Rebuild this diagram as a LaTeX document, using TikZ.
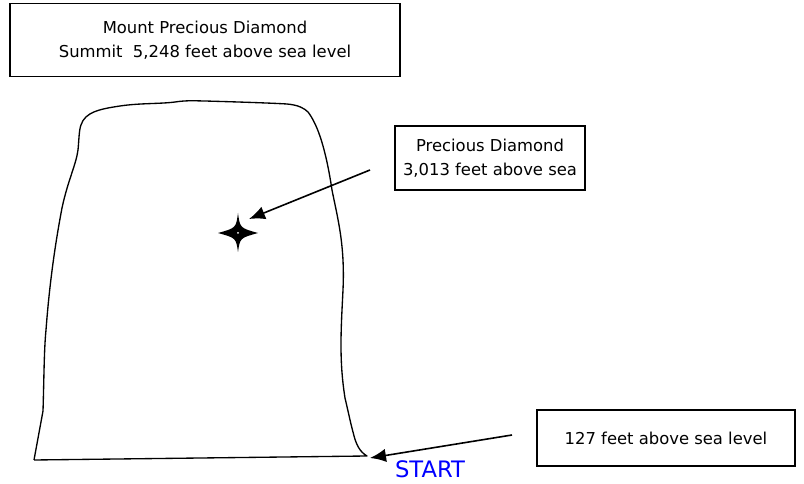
\documentclass[tikz,border=0pt]{standalone}
\usepackage{fontspec}
\setmainfont{DejaVu Sans}
\usetikzlibrary{arrows.meta}
\begin{document}
\begin{tikzpicture}[x=0.75pt,y=-0.75pt,
  lbl/.style={draw=black,line width=1.1pt,align=center,inner sep=0pt,font=\fontsize{12.3}{18.3}\selectfont},
  outline/.style={line width=1pt,line join=round},
  pointer/.style={line width=1.2pt,-{Latex[length=12pt,width=10pt]}}]
\useasboundingbox (0,0) rectangle (804,484);
\node[lbl,minimum width=390*0.75pt,minimum height=73*0.75pt] (summit) at (205,40) {Mount Precious Diamond\\Summit\ \ 5,248 feet above sea level};
\node[lbl,minimum width=190*0.75pt,minimum height=64*0.75pt] (diamond) at (490,158) {Precious Diamond\\3,013 feet above sea};
\node[lbl,minimum width=258*0.75pt,minimum height=56*0.75pt] (base) at (666,438) {127 feet above sea level};
% mountain
\draw[outline] (34,460) -- (43,411)
  .. controls (44,380) and (44,350) .. (46,330)
  .. controls (49,290) and (54,250) .. (62,208)
  .. controls (68,180) and (76,165) .. (78,150)
  .. controls (79,140) and (79,130) .. (81,125)
  .. controls (85,112) and (100,109) .. (120,106)
  .. controls (140,103) and (160,104) .. (175,102)
  .. controls (188,100) and (198,101) .. (205,101)
  .. controls (240,102) and (270,103) .. (287,104)
  .. controls (298,105) and (304,108) .. (308,112)
  .. controls (318,125) and (326,150) .. (332,190)
  .. controls (338,220) and (345,245) .. (343,290)
  .. controls (341,330) and (339,360) .. (345,398)
  .. controls (349,415) and (351,425) .. (353,432)
  .. controls (356,445) and (360,452) .. (367,456)
  -- (34,460);
% star
\node[inner sep=0pt,minimum size=0pt] (star) at (238,233) {};
\fill (238,213) .. controls (240,228) .. (258,233) .. controls (240,238) .. (238,252)
  .. controls (236,238) .. (218,233) .. controls (236,228) .. (238,213);
\fill[white] (238,233) circle (1);
\coordinate (a1) at (370,170);
\coordinate (a1e) at (249,219);
\draw[pointer] (a1) -- (a1e);
\coordinate (a2) at (512,435);
\coordinate (a2e) at (370,458);
\draw[pointer] (a2) -- (a2e);
\node[text=blue,font=\fontsize{17}{19}\selectfont,inner sep=0pt] (start) at (430,469) {START};
\end{tikzpicture}
\end{document}
